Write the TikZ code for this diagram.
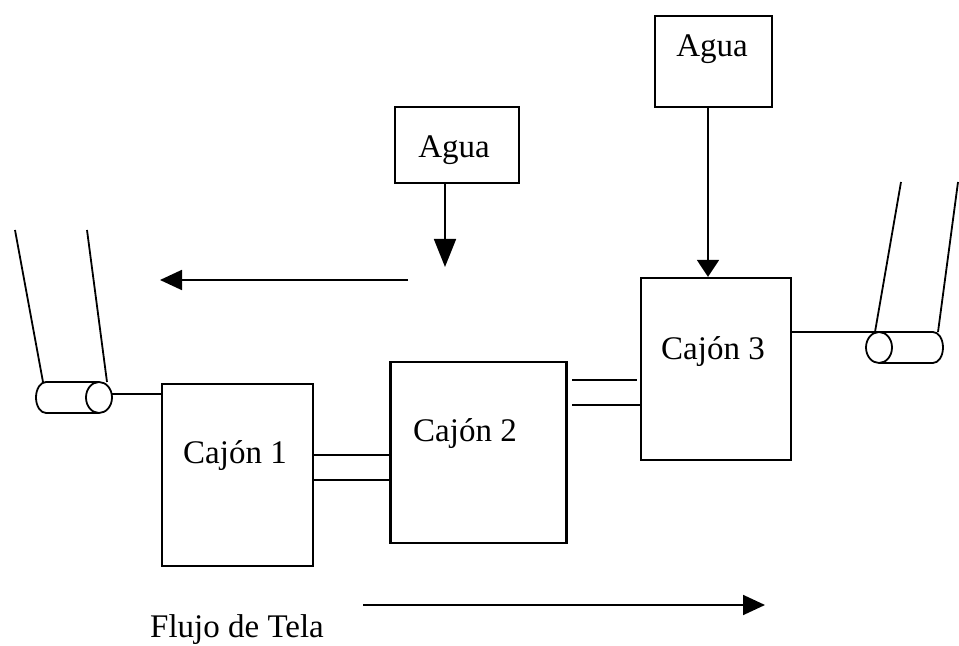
\documentclass[tikz,border=0pt]{standalone}
\usepackage{fontspec}
\setmainfont{Liberation Serif}
\usetikzlibrary{arrows.meta}
\begin{document}
\begin{tikzpicture}[x=0.5pt,y=-0.5pt,
  box/.style={draw, line width=1.1pt, inner sep=0pt, rectangle},
  lbl/.style={anchor=base, inner sep=0pt, font=\fontsize{16.5}{18}\selectfont},
  ln/.style={line width=0.9pt},
  arrA/.style={ln, -{Triangle[length=11pt,width=10pt]}},
  arrB/.style={ln, -{Triangle[length=14pt,width=11pt]}},
  arrC/.style={ln, -{Triangle[length=8.5pt,width=11pt]}}]
\useasboundingbox (0,0) rectangle (959,646);
% boxes
\node[box, minimum width=75.5pt, minimum height=91pt] (c1) at (237.5,475) {};
\node[box, minimum width=88pt, minimum height=90.5pt] (c2) at (478.5,452.5) {};
\node[box, minimum width=75pt, minimum height=91pt] (c3) at (716,369) {};
\node[box, minimum width=62pt, minimum height=38pt] (a1) at (457,145) {};
\node[box, minimum width=58.5pt, minimum height=45.5pt] (a2) at (713.5,61.5) {};
% texts
\node[lbl] (t1) at (235,464) {Cajón 1};
\node[lbl] (t2) at (465,442) {Cajón 2};
\node[lbl] (t3) at (713,360) {Cajón 3};
\node[lbl] (ta1) at (454,158) {Agua};
\node[lbl] (ta2) at (712,57) {Agua};
\node[lbl] (tf) at (237,638) {Flujo de Tela};
% water arrows
\coordinate (w1) at (445,267);
\draw[arrB] (a1.south -| w1) -- (w1);
\coordinate (w2) at (708,0);
\draw[arrC] (a2.south -| w2) -- (c3.north -| w2);
% flow arrows
\coordinate (la0) at (408,280);
\coordinate (la1) at (160,280);
\draw[arrA] (la0) -- (la1);
\coordinate (fa0) at (363,605);
\coordinate (fa1) at (765,605);
\draw[arrA] (fa0) -- (fa1);
% box connections
\coordinate (y1) at (0,455);
\coordinate (y2) at (0,480);
\draw[ln] (c1.east |- y1) -- (c2.west |- y1);
\draw[ln] (c1.east |- y2) -- (c2.west |- y2);
\coordinate (g1) at (572,380);
\coordinate (g1e) at (637,380);
\coordinate (g2) at (572,405);
\draw[ln] (g1) -- (g1e);
\draw[ln] (g2) -- (c3.west |- g2);
% left roller
\coordinate (r1) at (99,397.5);
\draw[ln] (r1) ellipse [x radius=6.5pt, y radius=7.75pt];
\draw[ln] ([yshift=7.75pt]r1) -- ++(-53,0) arc[start angle=90,end angle=270,x radius=5pt,y radius=7.75pt] -- ([yshift=-7.75pt]r1);
\coordinate (r1c) at (112,394);
\draw[ln] (r1c) -- (c1.west |- r1c);
\draw[ln] (15,230) -- (43,382);
\draw[ln] (87,230) -- (107,382);
% right roller
\coordinate (r2) at (879,347.5);
\draw[ln] (r2) ellipse [x radius=6.5pt, y radius=7.75pt];
\draw[ln] ([yshift=7.75pt]r2) -- ++(54,0) arc[start angle=90,end angle=-90,x radius=5pt,y radius=7.75pt] -- ([yshift=-7.75pt]r2);
\coordinate (r2t) at (879,332);
\draw[ln] (c3.east |- r2t) -- (r2t);
\draw[ln] (901,182) -- (875,332);
\draw[ln] (958,182) -- (938,332);
\end{tikzpicture}
\end{document}
